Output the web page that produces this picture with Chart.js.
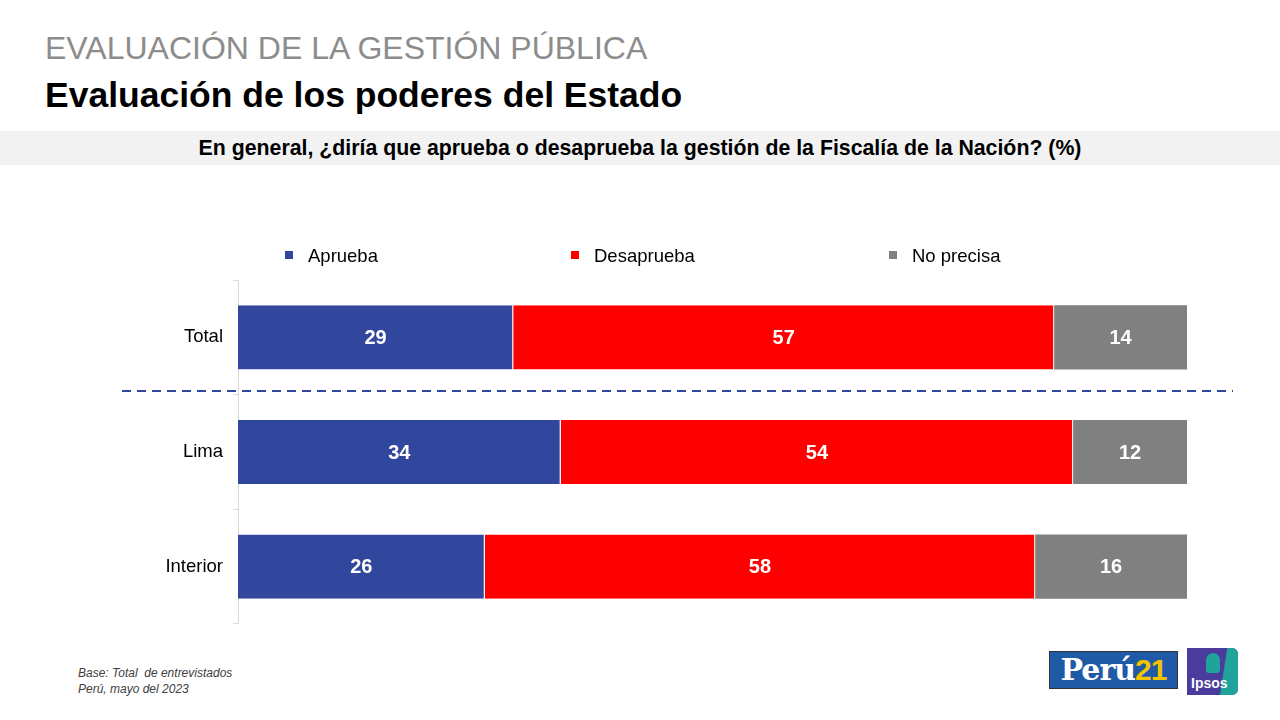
<!DOCTYPE html>
<html>
<head>
<meta charset="utf-8">
<script src="https://cdn.jsdelivr.net/npm/chart.js@4.4.0/dist/chart.umd.min.js"></script>
<style>
  body { margin: 0; width: 1280px; height: 720px; background: #fff; position: relative; overflow: hidden;
         font-family: "Liberation Sans", Arial, sans-serif; }
  .kicker { position: absolute; left: 45px; top: 30px; font-size: 32px; color: #8c8c8c; }
  .title { position: absolute; left: 45px; top: 75px; font-size: 35.5px; font-weight: bold; color: #000; }
  .band { position: absolute; left: 0; top: 131px; width: 1280px; height: 34px; background: #f2f2f2;
          font-size: 21.3px; font-weight: bold; color: #000; text-align: center; line-height: 34px; }
  .legend-item { position: absolute; top: 245px; font-size: 18.5px; color: #000; line-height: 22px; white-space: nowrap; z-index: 2; }
  .legend-item i { display: inline-block; width: 8px; height: 8px; margin-right: 15px; vertical-align: 3px; }
  .chart-box { position: absolute; left: 0; top: 259px; width: 1280px; height: 386px; }
  .note { position: absolute; left: 78px; top: 665px; font-size: 12px; font-style: italic; color: #404040; line-height: 16px; }
  .peru21 { position: absolute; left: 1049px; top: 651px; width: 127px; height: 36px; background: #1f5aa6;
            border: 1px solid #333; font-family: "DejaVu Serif", serif; font-weight: bold; font-size: 30px;
            line-height: 36px; text-align: center; color: #fff; letter-spacing: -1px; }
  .peru21 span { color: #f5c400; font-family: "Liberation Sans", Arial, sans-serif; }
  .ipsos { position: absolute; left: 1187px; top: 648px; width: 51px; height: 47px; background: #4a3c9c;
           border-radius: 0 6px 6px 0; overflow: hidden; }
  .ipsos .teal { position: absolute; right: 0; top: 0; width: 18px; height: 47px; background: #1fa39a;
                 clip-path: polygon(40% 0, 100% 0, 100% 100%, 0 100%); }
  .ipsos .head { position: absolute; left: 19px; top: 5px; width: 14px; height: 20px; background: #1fa39a; border-radius: 7px 7px 3px 3px; }
  .ipsos .txt { position: absolute; left: 4px; top: 27px; font-size: 14px; font-weight: bold; color: #fff; }
</style>
</head>
<body>
<div class="kicker">EVALUACIÓN DE LA GESTIÓN PÚBLICA</div>
<div class="title">Evaluación de los poderes del Estado</div>
<div class="band">En general, ¿diría que aprueba o desaprueba la gestión de la Fiscalía de la Nación? (%)</div>
<div class="chart-box"><canvas id="chart" width="1280" height="386"></canvas></div>
<div id="legend"></div>
<div class="note">Base: Total&nbsp; de entrevistados<br>Perú, mayo del 2023</div>
<div class="peru21">Perú<span>21</span></div>
<div class="ipsos"><div class="teal"></div><div class="head"></div><div class="txt">Ipsos</div></div>

<script>
// data
const categories = ['Total', 'Lima', 'Interior'];
const seriesNames = ['Aprueba', 'Desaprueba', 'No precisa'];
const aprueba    = [29, 34, 26];
const desaprueba = [57, 54, 58];
const noPrecisa  = [14, 12, 16];
const seriesColors = ['#31479e', '#ff0000', '#808080'];

// legend built from the series (positions match the slide)
const legendLeft = [285, 571, 889];
const legendEl = document.getElementById('legend');
seriesNames.forEach((name, i) => {
  const item = document.createElement('div');
  item.className = 'legend-item';
  item.style.left = legendLeft[i] + 'px';
  item.innerHTML = '<i style="background:' + seriesColors[i] + '"></i>' + name;
  legendEl.appendChild(item);
});

// white numbers centred in each segment
const segmentLabels = {
  id: 'segmentLabels',
  afterDatasetsDraw(chart) {
    const ctx = chart.ctx;
    ctx.save();
    ctx.fillStyle = '#fff';
    ctx.font = 'bold 20px "Liberation Sans", Arial, sans-serif';
    ctx.textAlign = 'center';
    ctx.textBaseline = 'middle';
    chart.data.datasets.forEach((ds, i) => {
      chart.getDatasetMeta(i).data.forEach((bar, j) => {
        const p = bar.getProps(['x', 'y', 'base'], true);
        ctx.fillText(ds.data[j], (p.x + p.base) / 2, p.y + 1);
      });
    });
    ctx.restore();
  }
};

// dashed separator between Total and the regions
const dashedSplit = {
  id: 'dashedSplit',
  afterDraw(chart) {
    const y = chart.scales.y;
    const py = Math.round(y.getPixelForValue(0.47));
    const ctx = chart.ctx;
    ctx.save();
    ctx.strokeStyle = '#31479e';
    ctx.lineWidth = 2;
    ctx.setLineDash([9, 6]);
    ctx.beginPath();
    ctx.moveTo(122, py);
    ctx.lineTo(1233, py);
    ctx.stroke();
    ctx.restore();
  }
};

const ctx = document.getElementById('chart').getContext('2d');
new Chart(ctx, {
  type: 'bar',
  data: {
    labels: categories,
    datasets: [aprueba, desaprueba, noPrecisa].map((vals, i) => ({
      label: seriesNames[i],
      data: vals,
      backgroundColor: seriesColors[i],
      borderColor: '#ffffff',
      borderWidth: { left: 0, right: i < 2 ? 1 : 0, top: 0, bottom: 0 },
      borderSkipped: false,
      categoryPercentage: 0.56,
      barPercentage: 1
    }))
  },
  options: {
    indexAxis: 'y',
    responsive: false,
    animation: false,
    layout: { padding: { left: 0, right: 93, top: 0, bottom: 1 } },
    scales: {
      x: { stacked: true, min: 0, max: 100, display: false },
      y: {
        stacked: true,
        afterFit(scale) { scale.width = 238; },
        grid: { display: true, offset: true, drawOnChartArea: false, drawTicks: true, tickLength: 5, color: '#d9d9d9' },
        border: { display: true, color: '#d9d9d9' },
        ticks: { color: '#000', padding: 10, font: { size: 18.5, family: '"Liberation Sans", Arial, sans-serif' } }
      }
    },
    plugins: {
      legend: { display: false },
      tooltip: { enabled: false }
    }
  },
  plugins: [segmentLabels, dashedSplit]
});
</script>
</body>
</html>
